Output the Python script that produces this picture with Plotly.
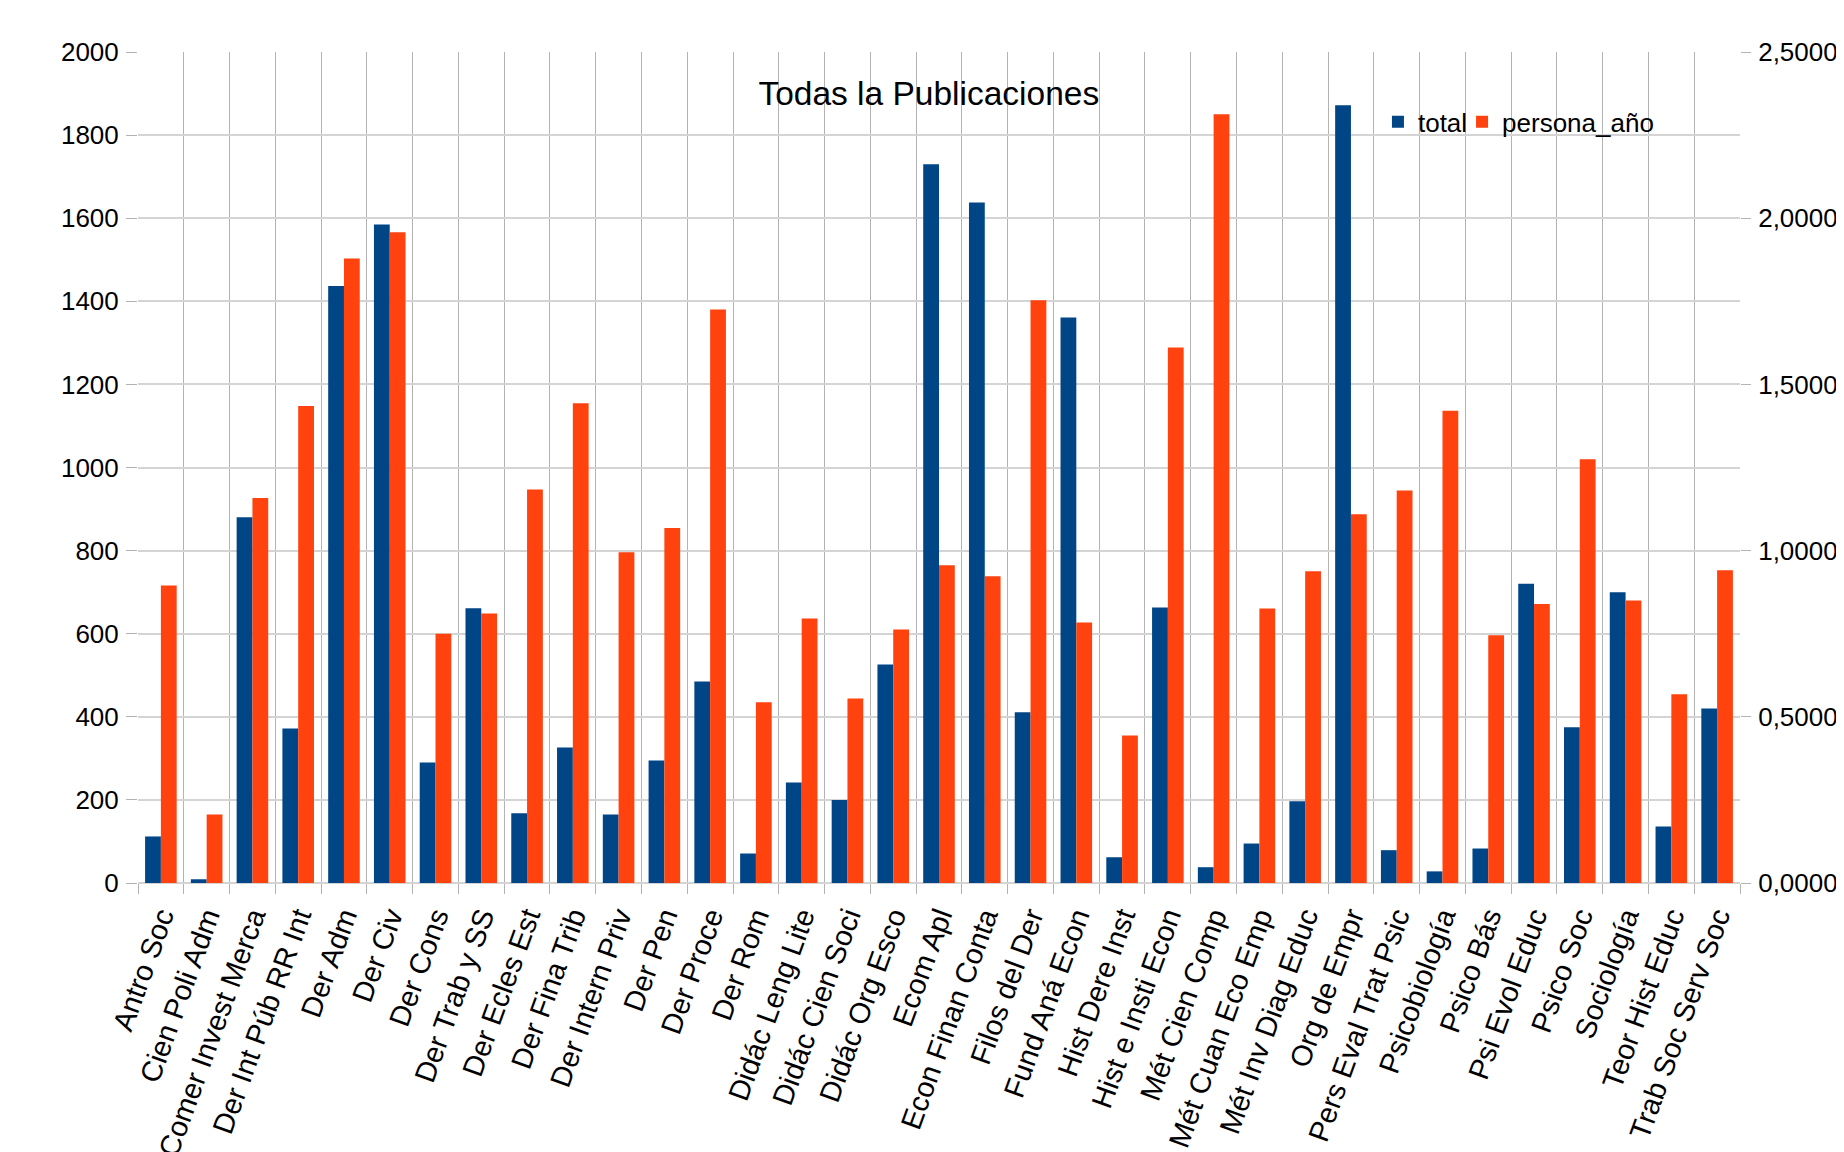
import plotly.graph_objects as go

categories = [
    "Antro Soc", "Cien Poli Adm", "Comer Invest Merca", "Der Int Púb RR Int", "Der Adm",
    "Der Civ", "Der Cons", "Der Trab y SS", "Der Ecles Est", "Der Fina Trib",
    "Der Intern Priv", "Der Pen", "Der Proce", "Der Rom", "Didác Leng Lite",
    "Didác Cien Soci", "Didác Org Esco", "Ecom Apl", "Econ Finan Conta", "Filos del Der",
    "Fund Aná Econ", "Hist Dere Inst", "Hist e Insti Econ", "Mét Cien Comp", "Mét Cuan Eco Emp",
    "Mét Inv Diag Educ", "Org de Empr", "Pers Eval Trat Psic", "Psicobiología", "Psico Bás",
    "Psi Evol Educ", "Psico Soc", "Sociología", "Teor Hist Educ", "Trab Soc Serv Soc",
]

total = [
    112, 9, 880, 372, 1437,
    1585, 290, 661, 168, 326,
    165, 295, 485, 71, 242,
    200, 526, 1730, 1638, 411,
    1361, 62, 663, 38, 95,
    197, 1872, 79, 28, 83,
    720, 375, 700, 136, 420,
]

persona_anio = [
    0.895, 0.206, 1.158, 1.435, 1.879,
    1.958, 0.750, 0.811, 1.184, 1.443,
    0.995, 1.068, 1.725, 0.544, 0.796,
    0.555, 0.763, 0.956, 0.923, 1.753,
    0.784, 0.444, 1.611, 2.313, 0.826,
    0.938, 1.109, 1.181, 1.421, 0.745,
    0.839, 1.275, 0.850, 0.568, 0.941,
]

FONT = "Liberation Sans, Arial, sans-serif"
BLUE = "#004586"
RED = "#ff420e"

# page body has an 8px default margin, so the figure is sized/offset to compensate
W, H = 1836, 1144

fig = go.Figure()
fig.add_trace(go.Bar(x=categories, y=total, name="total", marker_color=BLUE,
                     marker_line_width=0, offsetgroup="a", yaxis="y", legend="legend"))
fig.add_trace(go.Bar(x=categories, y=persona_anio, name="persona_año", marker_color=RED,
                     marker_line_width=0, offsetgroup="b", yaxis="y2", legend="legend2"))

legend_common = dict(orientation="h", xanchor="left", y=0.9158, yanchor="middle",
                     bgcolor="rgba(0,0,0,0)", font=dict(family=FONT, size=26, color="black"),
                     itemwidth=30)

fig.update_layout(
    template="none",
    width=W, height=H,
    paper_bgcolor="white", plot_bgcolor="white",
    margin=dict(l=130, r=104, t=44, b=269, autoexpand=False),
    separators=",.",
    barmode="group", bargap=0.31, bargroupgap=0,
    font=dict(family=FONT, size=26, color="black"),
    title=dict(text="Todas la Publicaciones", font=dict(family=FONT, size=33.5, color="black"),
               x=(928.8 - 8) / W, xanchor="center", xref="container",
               y=1 - (93.4 - 8) / H, yanchor="middle", yref="container"),
    showlegend=True,
    legend=dict(x=0.774, **legend_common),
    legend2=dict(x=0.8265, **legend_common),
    xaxis=dict(type="category", tickson="boundaries", showgrid=True, gridcolor="#b3b3b3",
               gridwidth=1, ticks="outside", ticklen=10, tickcolor="#b3b3b3", tickwidth=1,
               tickangle=-70, showline=False, zeroline=False, automargin=False,
               ticklabelstandoff=10,
               tickfont=dict(family=FONT, size=29, color="black")),
    yaxis=dict(range=[0, 2000], dtick=200, showgrid=True, gridcolor="#d4d4d4", gridwidth=2,
               ticks="outside", ticklen=11, tickcolor="#b3b3b3", tickwidth=1,
               zeroline=True, zerolinecolor="#d4d4d4", zerolinewidth=2, showline=False,
               automargin=False, ticklabelstandoff=2,
               tickfont=dict(family=FONT, size=26, color="black")),
    yaxis2=dict(range=[0, 2.5], dtick=0.5, tickformat=".4f", overlaying="y", side="right",
                showgrid=False, zeroline=False, ticks="outside", ticklen=10,
                tickcolor="#b3b3b3", tickwidth=1, showline=False, automargin=False,
                ticklabelstandoff=2,
                tickfont=dict(family=FONT, size=26, color="black")),
)

fig.write_html("out.html")
